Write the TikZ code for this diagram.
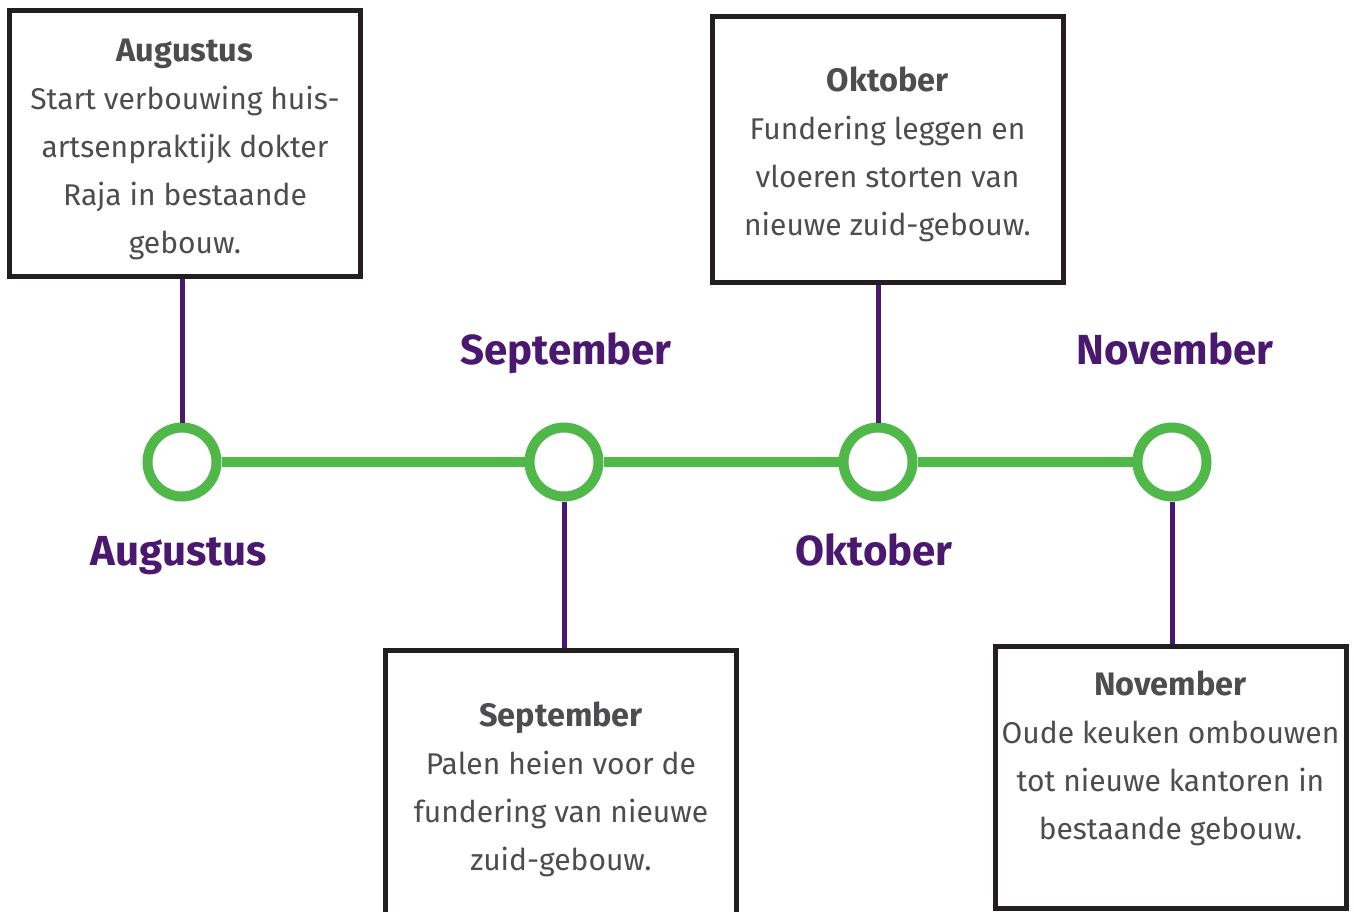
\documentclass[tikz,border=0pt]{standalone}
\usepackage{fontspec}
\setmainfont{Fira Sans}
\usetikzlibrary{positioning}
\definecolor{groen}{HTML}{50B848}
\definecolor{paars}{HTML}{4B1870}
\definecolor{rand}{HTML}{231F20}
\definecolor{tekst}{HTML}{4D4D4F}
\newcommand{\titel}[1]{{\fontsize{32.5}{48}\selectfont\bfseries\rule{0pt}{35pt}#1}}

\begin{document}
\begin{tikzpicture}[x=1pt,y=-1pt,
    mijlpaal/.style={circle,draw=groen,line width=10pt,fill=white,minimum size=69pt,inner sep=0pt},
    tijdlijn/.style={draw=groen,line width=10pt},
    verbinding/.style={draw=paars,line width=5pt},
    kader/.style={draw=rand,line width=5pt,fill=white,minimum width=351pt,align=center,text=tekst,font=\fontsize{30}{48}\selectfont,inner sep=0pt},
    maand/.style={text=paars,font=\fontsize{42}{48}\selectfont\bfseries,anchor=base}]
                      \useasboundingbox[fill=white] (0,0) rectangle (1354,911);
                      \node[kader,minimum height=266pt](aug)at(185,143.5){\titel{Augustus}\\Start verbouwing huis-\\artsenpraktijk dokter\\Raja in bestaande\\gebouw.};
                      \node[kader,minimum height=266pt](okt)at(887.5,149.5){\titel{Oktober}\\Fundering leggen en\\vloeren storten van\\nieuwe zuid-gebouw.};
                      \node[kader,minimum height=267pt](sep)at(561,784){\titel{September}\\Palen heien voor de\\fundering van nieuwe\\zuid-gebouw.};
                      \node[kader,minimum height=262pt](nov)at(1170.5,777.5){\titel{November}\\Oude keuken ombouwen\\tot nieuwe kantoren in\\bestaande gebouw.\\[8pt] \mbox{}};
                      \node[mijlpaal](caug)at(182,462){};
                      \node[mijlpaal](csep)at(564,462){};
                      \node[mijlpaal](cokt)at(878,462){};
                      \node[mijlpaal](cnov)at(1172,462){};
                      \draw[tijdlijn] (caug) -- (csep);
                      \draw[tijdlijn] (csep) -- (cokt);
                      \draw[tijdlijn] (cokt) -- (cnov);
                      \draw[verbinding] (caug.north) -- (caug.north |- aug.south);
                      \draw[verbinding] (csep.south) -- (csep.south |- sep.north);
                      \draw[verbinding] (cokt.north) -- (cokt.north |- okt.south);
                      \draw[verbinding] (cnov.south) -- (cnov.south |- nov.north);
                      \node[maand](laug)at(179,565){Augustus};
                      \node[maand](lsep)at(566,364){September};
                      \node[maand](lokt)at(874,565){Oktober};
                      \node[maand](lnov)at(1175,364){November};
                  \end{tikzpicture}
\end{document}
